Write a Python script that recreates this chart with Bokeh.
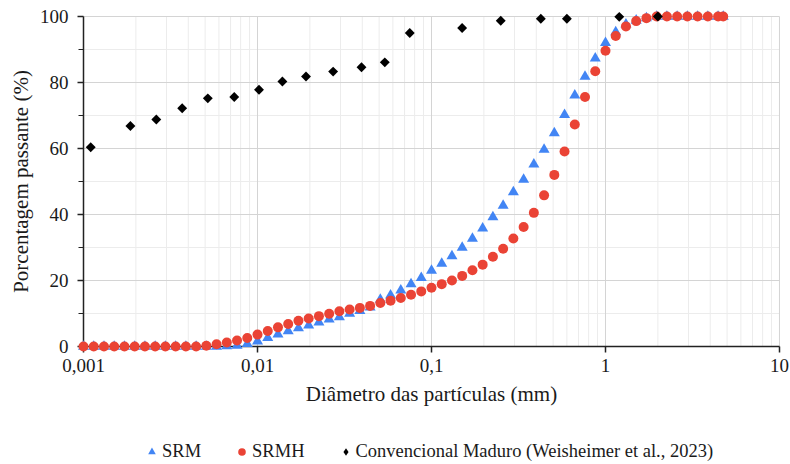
from bokeh.plotting import figure
from bokeh.models import FixedTicker, CustomJSTickFormatter, Legend, LegendItem, Range1d
from bokeh.embed import file_html
from bokeh.resources import INLINE

# particle diameter (mm), laser diffraction bins
diam_mm = [0.001, 0.001145, 0.001311, 0.001501, 0.001719, 0.001968, 0.002254, 0.002581, 0.002955,
           0.003384, 0.003875, 0.004437, 0.005080, 0.005817, 0.006661, 0.007627, 0.008733,
           0.01, 0.01145, 0.01311, 0.01501, 0.01719, 0.01968, 0.02254, 0.02581, 0.02955,
           0.03384, 0.03875, 0.04437, 0.05080, 0.05817, 0.06661, 0.07627, 0.08733,
           0.1, 0.1145, 0.1311, 0.1501, 0.1719, 0.1968, 0.2254, 0.2581, 0.2955,
           0.3384, 0.3875, 0.4437, 0.5080, 0.5817, 0.6661, 0.7627, 0.8733,
           1.0, 1.145, 1.311, 1.501, 1.719, 1.968, 2.254, 2.581, 2.955, 3.384, 3.875, 4.437, 4.75]

srm = [0, 0, 0, 0, 0, 0, 0, 0, 0, 0, 0, 0, 0, 0,
       0.1, 0.3, 0.8, 1.6, 2.6, 3.7, 4.7, 5.6, 6.4, 7.3, 8.2, 8.9, 10.0, 10.8, 11.9, 14.2,
       15.5, 17.0, 18.9, 20.8, 23.0, 25.1, 27.4, 30.0, 32.7, 35.8, 39.2, 42.7, 46.8, 50.6,
       55.2, 59.7, 64.7, 70.2, 76.1, 81.8, 87.3, 92.0, 95.3, 97.6, 98.8, 99.5,
       100, 100, 100, 100, 100, 100, 100, 100]

srmh = [0, 0, 0, 0, 0, 0, 0, 0, 0, 0, 0, 0,
        0.2, 0.7, 1.2, 1.8, 2.6, 3.6, 4.7, 5.8, 6.8, 7.8, 8.5, 9.2, 9.9, 10.7, 11.2, 11.7,
        12.3, 13.2, 13.9, 14.7, 15.7, 16.7, 17.8, 18.9, 20.0, 21.4, 23.1, 24.8, 27.2, 29.6,
        32.7, 36.2, 40.5, 45.8, 52.0, 59.1, 67.3, 75.6, 83.4, 89.6, 94.1, 97.0, 98.6, 99.5,
        100, 100, 100, 100, 100, 100, 100, 100]

conv_x = [0.0011, 0.00186, 0.00262, 0.00369, 0.00518, 0.00735, 0.0102, 0.0139, 0.0190, 0.0272,
          0.0396, 0.0539, 0.075, 0.15, 0.25, 0.425, 0.6, 1.2, 2.0]
conv_y = [60.4, 66.8, 68.8, 72.2, 75.2, 75.6, 77.8, 80.3, 81.8, 83.3, 84.6, 86.1, 95.0, 96.5,
          98.7, 99.3, 99.3, 99.9, 100]

x_major = [0.001, 0.01, 0.1, 1, 10]
x_minor = [m * d for d in [0.001, 0.01, 0.1, 1] for m in range(2, 10)]
y_major = [0, 20, 40, 60, 80, 100]
y_minor = [10, 30, 50, 70, 90]
x_lo, x_hi = x_major[0], x_major[-1]
y_lo, y_hi = y_major[0], y_major[-1]

FONT = "Liberation Serif"
INK = "#1a1a1a"

# the frame fills the whole canvas; the axes sit at fixed data locations inside it,
# so that tick labels, titles, legend and edge markers are never clipped
p = figure(width=790, height=464, x_axis_type="log",
           x_range=Range1d(0.0003333, 11.57), y_range=Range1d(-35.76, 104.85),
           output_backend="svg", toolbar_location=None,
           min_border_left=0, min_border_right=0, min_border_top=0, min_border_bottom=0)
p.outline_line_color = None
p.xgrid.visible = False
p.ygrid.visible = False

# grid lines limited to the data area
p.segment(x0=x_minor, y0=[y_lo] * len(x_minor), x1=x_minor, y1=[y_hi] * len(x_minor),
          line_color="#ececec", line_width=1)
p.segment(x0=[x_lo] * len(y_minor), y0=y_minor, x1=[x_hi] * len(y_minor), y1=y_minor,
          line_color="#ececec", line_width=1)
p.segment(x0=x_major, y0=[y_lo] * len(x_major), x1=x_major, y1=[y_hi] * len(x_major),
          line_color="#d4d4d4", line_width=1)
p.segment(x0=[x_lo] * len(y_major), y0=y_major, x1=[x_hi] * len(y_major), y1=y_major,
          line_color="#d4d4d4", line_width=1)

p.xaxis.ticker = FixedTicker(ticks=x_major, minor_ticks=x_minor)
p.yaxis.ticker = FixedTicker(ticks=y_major, minor_ticks=y_minor)
p.xaxis.formatter = CustomJSTickFormatter(code="""
const e = Math.round(Math.log10(tick));
if (e >= 0) return String(Math.round(Math.pow(10, e)));
return "0," + "0".repeat(-e - 1) + "1";
""")
p.xaxis.fixed_location = y_lo
p.yaxis.fixed_location = x_lo
p.xaxis.bounds = (x_lo, x_hi)
p.yaxis.bounds = (y_lo, y_hi)

for ax in (p.xaxis, p.yaxis):
    ax.axis_line_color = "#222222"
    ax.axis_line_width = 1.5
    ax.major_tick_line_color = "#222222"
    ax.major_tick_line_width = 1.5
    ax.major_label_text_font = FONT
    ax.major_label_text_font_size = "19px"
    ax.major_label_text_color = INK
    ax.axis_label_text_font = FONT
    ax.axis_label_text_font_size = "21px"
    ax.axis_label_text_font_style = "normal"
    ax.axis_label_text_color = INK

p.xaxis.major_tick_in = 0
p.xaxis.major_tick_out = 6
p.xaxis.minor_tick_line_color = None
p.xaxis.major_label_standoff = 7
p.xaxis.axis_label = "Diâmetro das partículas (mm)"
p.xaxis.axis_label_standoff = 6

p.yaxis.major_tick_in = 0
p.yaxis.major_tick_out = 6
p.yaxis.minor_tick_in = 0
p.yaxis.minor_tick_out = 5
p.yaxis.minor_tick_line_color = "#222222"
p.yaxis.minor_tick_line_width = 1.2
p.yaxis.major_label_standoff = 9
p.yaxis.axis_label = "Porcentagem passante (%)"
p.yaxis.axis_label_standoff = 4

r_srm = p.scatter(diam_mm, srm, marker="triangle", size=11, fill_color="#4285F4",
                  line_color="#4285F4", line_width=0, level="overlay")
r_srmh = p.scatter(diam_mm, srmh, marker="circle", size=10, fill_color="#EA4335",
                   line_color="#EA4335", line_width=0, level="overlay")
r_conv = p.scatter(conv_x, conv_y, marker="square", angle=0.7853981634, size=7,
                   fill_color="#000000", line_color="#000000", line_width=0, level="overlay")
# same series, diamond-shaped glyph used only for the legend swatch (no visible points)
nan = float("nan")
r_conv_key = p.scatter(x=[nan], y=[nan], marker="diamond", size=10,
                       fill_color="#000000", line_color="#000000", line_width=0)

legend = Legend(items=[LegendItem(label="SRM", renderers=[r_srm]),
                       LegendItem(label="SRMH", renderers=[r_srmh]),
                       LegendItem(label="Convencional Maduro (Weisheimer et al., 2023)",
                                  renderers=[r_conv_key])],
                orientation="horizontal", location=(142, 2),
                label_text_font=FONT, label_text_font_size="18.5px", label_text_color=INK,
                glyph_width=19, glyph_height=19, label_height=19, label_standoff=1, spacing=31,
                padding=0, margin=0, background_fill_alpha=0, border_line_color=None)
p.add_layout(legend)

open("out.html", "w").write(file_html(p, INLINE))
